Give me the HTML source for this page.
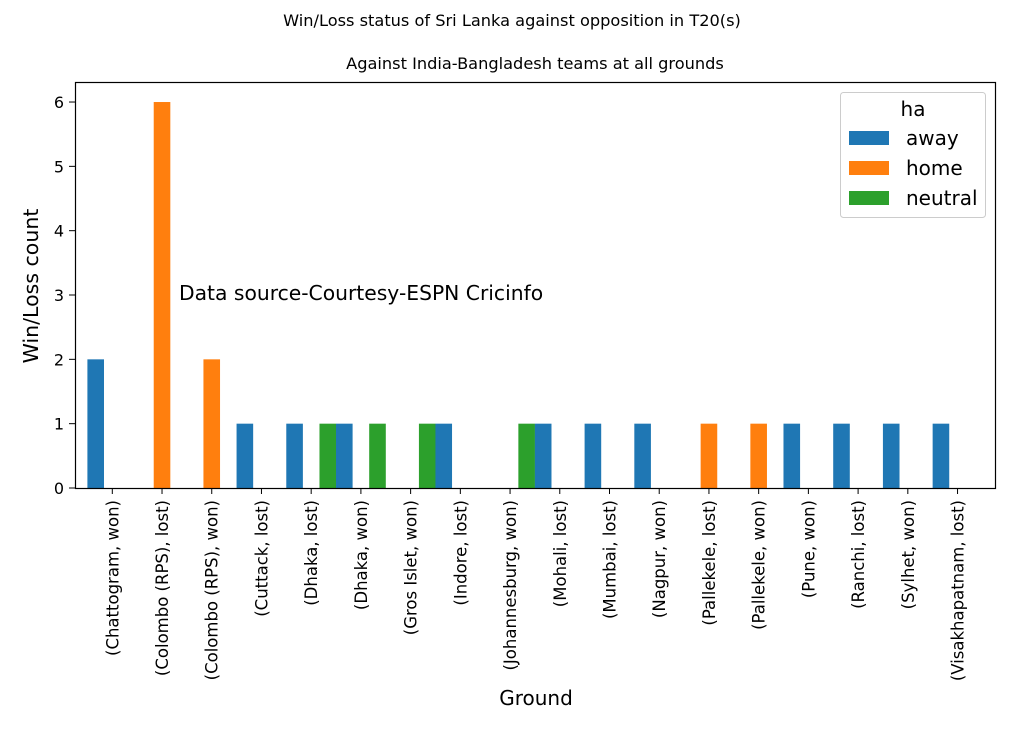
<!DOCTYPE html>
<html><head><meta charset="utf-8"><style>
body{margin:0;background:#fff}
svg{display:block;font-family:"DejaVu Sans","Liberation Sans",sans-serif}
</style></head><body>
<svg width="1023" height="731" xmlns="http://www.w3.org/2000/svg">
<rect width="1023" height="731" fill="#fff"/>
<text x="512" y="26" font-size="16.2" text-anchor="middle">Win/Loss status of Sri Lanka against opposition in T20(s)</text>
<text x="535" y="69" font-size="16.2" text-anchor="middle">Against India-Bangladesh teams at all grounds</text>
<g id="bars"></g>
<rect x="75.5" y="82.5" width="920" height="406" fill="none" stroke="#000" stroke-width="1.2"/>
<text x="179" y="300" font-size="20.3">Data source-Courtesy-ESPN Cricinfo</text>
<g font-size="16" text-anchor="end" id="yt"></g>
<text transform="translate(38,286) rotate(-90)" font-size="20.5" text-anchor="middle">Win/Loss count</text>
<g font-size="16.5" id="xt"></g>
<text x="536" y="705" font-size="20" text-anchor="middle">Ground</text>
<rect x="840.5" y="92.5" width="145" height="125" rx="3" fill="#fff" fill-opacity="0.8" stroke="#ccc"/>
<text x="913" y="116" font-size="20" text-anchor="middle">ha</text>
<rect x="849" y="131" width="40" height="14" fill="#1f77b4"/>
<rect x="849" y="161" width="40" height="14" fill="#ff7f0e"/>
<rect x="849" y="191" width="40" height="14" fill="#2ca02c"/>
<text x="906" y="145" font-size="20">away</text>
<text x="906" y="175" font-size="20">home</text>
<text x="906" y="205" font-size="20">neutral</text>
<script>
var ns="http://www.w3.org/2000/svg";
var labels=["(Chattogram, won)","(Colombo (RPS), lost)","(Colombo (RPS), won)","(Cuttack, lost)","(Dhaka, lost)","(Dhaka, won)","(Gros Islet, won)","(Indore, lost)","(Johannesburg, won)","(Mohali, lost)","(Mumbai, lost)","(Nagpur, won)","(Pallekele, lost)","(Pallekele, won)","(Pune, won)","(Ranchi, lost)","(Sylhet, won)","(Visakhapatnam, lost)"];
var data=[[2,0,0],[0,6,0],[0,2,0],[1,0,0],[1,0,1],[1,0,1],[0,0,1],[1,0,0],[0,0,1],[1,0,0],[1,0,0],[1,0,0],[0,1,0],[0,1,0],[1,0,0],[1,0,0],[1,0,0],[1,0,0]];
var cols=["#1f77b4","#ff7f0e","#2ca02c"];
var y0=488,u=64.33,w=16.6;
function tx(i){return 112.3+i*49.72;}
var b=document.getElementById("bars"),xt=document.getElementById("xt"),yt=document.getElementById("yt");
for(var i=0;i<18;i++){
 var c=tx(i);
 for(var k=0;k<3;k++){var v=data[i][k];if(!v)continue;
  var r=document.createElementNS(ns,"rect");
  r.setAttribute("x",c+(k-1)*w-w/2);r.setAttribute("y",y0-v*u);r.setAttribute("width",w);r.setAttribute("height",v*u);r.setAttribute("fill",cols[k]);b.appendChild(r);}
 var l=document.createElementNS(ns,"line");l.setAttribute("x1",c);l.setAttribute("x2",c);l.setAttribute("y1",488);l.setAttribute("y2",494);l.setAttribute("stroke","#000");xt.appendChild(l);
 var t=document.createElementNS(ns,"text");t.setAttribute("transform","translate("+(c+6)+",500) rotate(-90)");t.setAttribute("text-anchor","end");t.textContent=labels[i];xt.appendChild(t);
}
for(var j=0;j<=6;j++){var y=y0-j*u;
 var l=document.createElementNS(ns,"line");l.setAttribute("x1",69);l.setAttribute("x2",75);l.setAttribute("y1",y);l.setAttribute("y2",y);l.setAttribute("stroke","#000");yt.appendChild(l);
 var t=document.createElementNS(ns,"text");t.setAttribute("x",64);t.setAttribute("y",y+6);t.textContent=j;yt.appendChild(t);}
</script>
</svg>
</body></html>
